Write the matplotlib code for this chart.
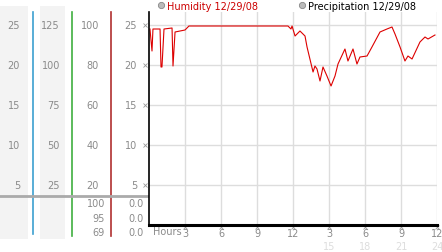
import matplotlib
matplotlib.use("Agg")
import matplotlib.pyplot as plt
import matplotlib.transforms as mtransforms

""" ------------------- Data ------------------- """

# Humidity 12/29/08 (hours, %)
hours = [0.08, 0.25, 0.33, 0.5, 0.92, 1.0, 1.08, 1.25, 1.92, 2.0, 2.17, 3.0, 3.33,
         11.58, 11.83, 11.92, 12.17, 12.58, 13.0, 13.17, 13.67, 13.83, 14.0, 14.25,
         14.5, 14.83, 15.17, 15.5, 15.75, 16.33, 16.58, 17.0, 17.33, 17.58, 18.17,
         18.58, 19.25, 19.83, 20.25, 20.5, 20.92, 21.33, 21.58, 21.92, 22.58, 23.0,
         23.25, 23.83]
humidity = [98, 87, 98, 98, 98, 79, 79, 98, 98.5, 79.5, 96.5, 97.5, 99.5,
            99.5, 98, 99.5, 94.5, 97, 94.5, 89, 76.5, 79.5, 78, 72,
            79, 74.5, 69.5, 74.5, 80.5, 88, 82, 88, 80.5, 84, 84.5,
            89, 96.5, 98, 99, 95.5, 89, 82, 84.5, 83, 91.5, 94,
            93, 95]

# left scale columns (top labels at the humidity grid levels)
levels = [100, 80, 60, 40, 20]
col1_labels = ["25", "20", "15", "10", "5"]
col2_labels = ["125", "100", "75", "50", "25"]
col3_labels = ["100", "80", "60", "40", "20"]
col4_labels = ["25", "20", "15", "10", "5"]
# current values under the grey line
col3_now = ["100", "95", "69"]
col4_now = ["0.0", "0.0", "0.0"]

hour_ticks = [3, 6, 9, 12, 15, 18, 21, 24]
hour_labels = ["3", "6", "9", "12", "3", "6", "9", "12"]
hour_labels_24 = ["", "", "", "", "15", "18", "21", "24"]

""" ------------------- Plot ------------------- """

W, H = 442, 253
fig = plt.figure(figsize=(W / 100, H / 100), dpi=100)
plt.rcParams['font.family'] = ['DejaVu Sans']

# overlay in pixel coordinates for the side panel
ov = fig.add_axes([0, 0, 1, 1], zorder=0)
ov.set_xlim(0, W)
ov.set_ylim(H, 0)
ov.axis('off')

# main plot
x0, x1, y0, y1 = 149, 437, 226, 13
ax = fig.add_axes([x0 / W, (H - y0) / H, (x1 - x0) / W, (y0 - y1) / H], zorder=1)
ax.set_xlim(0, 24)
ax.set_ylim(0, 100 + 13 / 2)

ax.plot(hours, humidity, color='#DD0000', lw=0.8)

for lv in levels:
  ax.axhline(lv, color='#DDDDDD', lw=1, zorder=0)
for h in hour_ticks:
  ax.axvline(h, color='#DDDDDD', lw=1, zorder=0)

for s in ['top', 'right']:
  ax.spines[s].set_visible(False)
ax.spines['left'].set_linewidth(1.2)
ax.spines['bottom'].set_linewidth(2.2)
ax.set_xticks([])
ax.set_yticks([])

gray = '#8A8A8A'
fs = 7

# small tick glyphs along the left axis
ax.plot([-0.35] * len(levels), levels, ls='none', marker='x', ms=2.5,
        mew=0.6, color='#999999', clip_on=False)

# hour labels
bt = mtransforms.blended_transform_factory(ax.transData, ov.transData)
for h, lab, lab2 in zip(hour_ticks, hour_labels, hour_labels_24):
  ov.plot([h], [228], ls='none', marker='x', ms=2.5, mew=0.6,
          color='#999999', transform=bt, clip_on=False)
  ov.text(h, 234, lab, transform=bt, ha='center', va='center',
          fontsize=fs, color=gray)
  if lab2:
    ov.text(h, 247, lab2, transform=bt, ha='center', va='center',
            fontsize=fs, color='#DDDDDD')
ov.text(153, 232, "Hours", ha='left', va='center', fontsize=fs, color=gray)

# side panel backgrounds
ov.axvspan(0, 28, ymin=(H - 240) / H, ymax=(H - 7) / H, color='#F3F3F3', lw=0)
ov.axvspan(40, 65, ymin=(H - 240) / H, ymax=(H - 7) / H, color='#F3F3F3', lw=0)

# coloured separators
ov.plot([33, 33], [13, 235], color='#3C9FD0', lw=1.2)
ov.plot([72, 72], [13, 237], color='#3FAF3F', lw=1.2)
ov.plot([111, 111], [13, 237], color='#B03030', lw=1.2)
ov.plot([0, 149], [197, 197], color='#AAAAAA', lw=2)

lt = mtransforms.blended_transform_factory(ov.transData, ax.transData)
for lv, a, b, c, d in zip(levels, col1_labels, col2_labels, col3_labels, col4_labels):
  ov.text(20, lv, a, transform=lt, ha='right', va='center', fontsize=fs, color=gray)
  ov.text(60, lv, b, transform=lt, ha='right', va='center', fontsize=fs, color=gray)
  ov.text(99, lv, c, transform=lt, ha='right', va='center', fontsize=fs, color=gray)
  ov.text(137, lv, d, transform=lt, ha='right', va='center', fontsize=fs, color=gray)

for yy, c, d in zip([204, 219, 233], col3_now, col4_now):
  ov.text(105, yy, c, ha='right', va='center', fontsize=fs, color=gray)
  ov.text(144, yy, d, ha='right', va='center', fontsize=fs, color=gray)

# legend
ov.plot([161], [6], marker='o', ms=4.5, mfc='#BBBBBB', mec='#888888', mew=0.6)
ov.text(167, 6.5, "Humidity 12/29/08", ha='left', va='center', fontsize=fs, color='#CC0000')
ov.plot([302], [6], marker='o', ms=4.5, mfc='#BBBBBB', mec='#888888', mew=0.6)
ov.text(308, 6.5, "Precipitation 12/29/08", ha='left', va='center', fontsize=fs, color='black')

fig.savefig('out.png', dpi=100)
